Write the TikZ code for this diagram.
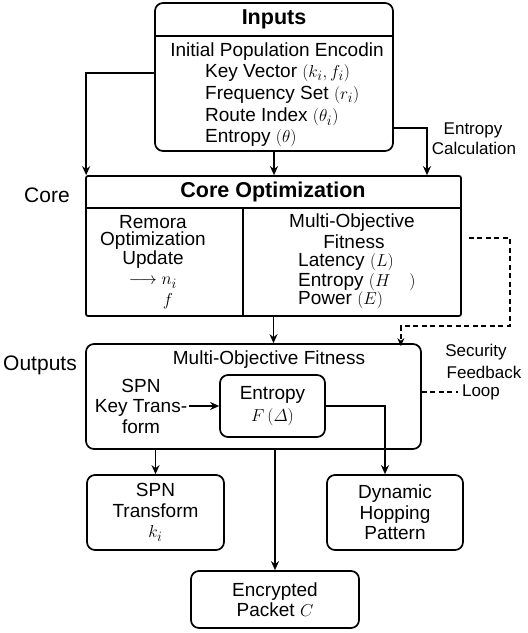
\documentclass[tikz,border=0pt]{standalone}
\usepackage{fontspec}
\setmainfont{Liberation Sans}
\usepackage{amsmath}
\usetikzlibrary{arrows.meta}

\tikzset{
	block/.style={draw, line width=1.7pt, rounded corners=8pt, inner sep=0pt},
	flow/.style={-{Stealth[length=9pt, width=8pt]}, line width=1.7pt},
	feedback/.style={dash pattern=on 5pt off 3.5pt, line width=1.4pt},
	txt/.style={font=\fontsize{19}{20.5}\selectfont, inner sep=0pt},
	head/.style={font=\fontsize{21.5}{24}\selectfont\bfseries, inner sep=0pt},
	side/.style={font=\fontsize{21}{24}\selectfont, inner sep=0pt},
	note/.style={font=\fontsize{17}{20}\selectfont, inner sep=0pt},
}

\begin{document}
\begin{tikzpicture}[x=1pt,y=-1pt]
	\useasboundingbox (0,0) rectangle (528,633);

%% Inputs
	\node[block, minimum width=238pt, minimum height=148pt] (inputs) at (274,77) {};
	\draw[line width=1.7pt] (inputs.west |- 0,36) -- (inputs.east |- 0,36);
	\draw (274,19) node[head] (inputs-title){Inputs};
	\draw (277,52) node[txt] (init){Initial Population Encodin};
	\draw (205,73) node[txt, anchor=west] (keyvec){Key Vector $(k_i, f_i)$};
	\draw (205,95) node[txt, anchor=west] (freqset){Frequency Set $(r_i)$};
	\draw (205,117) node[txt, anchor=west] (route){Route Index $(\theta_i)$};
	\draw (205,138) node[txt, anchor=west] (entropy){Entropy $(\theta)$};

%% Entropy calculation
	\draw (473,130) node[note] (entropy-label){Entropy};
	\draw (474,148) node[note] (calc-label){Calculation};
	\coordinate (calc-turn) at (427,128);

%% Core
	\node[block, rounded corners=2pt, minimum width=375pt, minimum height=140pt] (core) at (273.5,246) {};
	\draw[line width=1.7pt] (core.west |- 0,208) -- (core.east |- 0,208);
	\draw[line width=1.7pt] (243,208) -- (core.south -| 243,0);
	\draw (273,192) node[head] (core-title){Core Optimization};
	\draw (47,195) node[side] (core-label){Core};
	\draw (153,222) node[txt] (remora){Remora};
	\draw (153,241) node[txt] (optim){Optimization};
	\draw (153,260) node[txt] (update){Update};
	\draw (153,283) node[txt] (step-ni){$\longrightarrow n_i$};
	\draw (168,301) node[txt] (step-f){$f$};
	\draw (352,223) node[txt] (multi){Multi-Objective};
	\draw (354,242) node[txt] (fitness-label){Fitness};
	\draw (298,262) node[txt, anchor=west] (latency){Latency $(L)$};
	\draw (298,282) node[txt, anchor=west] (entropy-h){Entropy $(H\quad)$};
	\draw (298,300) node[txt, anchor=west] (power){Power $(E)$};

%% Outputs
	\node[block, minimum width=335pt, minimum height=105pt] (outputs) at (253.5,396.5) {};
	\draw (269,360) node[txt] (outputs-title){Multi-Objective Fitness};
	\draw (40,365) node[side] (outputs-label){Outputs};
	\draw (141,406) node[txt, align=center] (spn-key){SPN\\Key Trans-\\form};
	\node[block, txt, align=center, minimum width=105pt, minimum height=62pt] (fitness) at (272.5,406) {Entropy\\[1pt]$F\,(\varDelta)$};

%% Security feedback
	\draw (476,352) node[note] (security){Security};
	\draw (484,372) node[note] (feedback-label){Feedback};
	\draw (481,392) node[note] (loop){Loop};
	\coordinate (fb-top) at (510,238);
	\coordinate (fb-bot) at (510,326);

%% Results
	\node[block, txt, align=center, minimum width=137pt, minimum height=75pt] (spn) at (155.5,512.5) {SPN\\Transform\\$k_i$};
	\node[block, txt, align=center, minimum width=136pt, minimum height=75pt] (hopping) at (395,512.5) {Dynamic\\Hopping\\Pattern};
	\node[block, txt, align=center, minimum width=168pt, minimum height=57pt] (packet) at (275,599.5) {Encrypted\\Packet $C$};

	% Lines
	\draw[flow] (inputs.south) -- (core.north -| inputs.south);
	\draw[flow] (inputs.west |- keyvec) -| ([xshift=1pt]core.north west);
	\draw[flow] (inputs.east |- calc-turn) -| (core.north -| calc-turn);
	\draw[flow] (core.south) -- (outputs.north -| core.south);
	\draw[feedback, -{Stealth[length=8pt, width=7pt]}, shorten <=7pt] (core.east |- fb-top) -- (fb-top) -- (fb-bot) -| ([xshift=-21pt, yshift=-3pt]outputs.north east);
	\draw[feedback] (outputs.east |- loop) -- ([xshift=-4pt]loop.west);
	\draw[flow, shorten <=2pt] (spn-key.east |- fitness.west) -- (fitness.west);
	\draw[flow] (fitness.east) -| ([xshift=-10pt]hopping.north);
	\draw[flow] (outputs.south -| spn.north) -- (spn.north);
	\draw[flow] (outputs.south -| packet.north) -- (packet.north);
\end{tikzpicture}
\end{document}
